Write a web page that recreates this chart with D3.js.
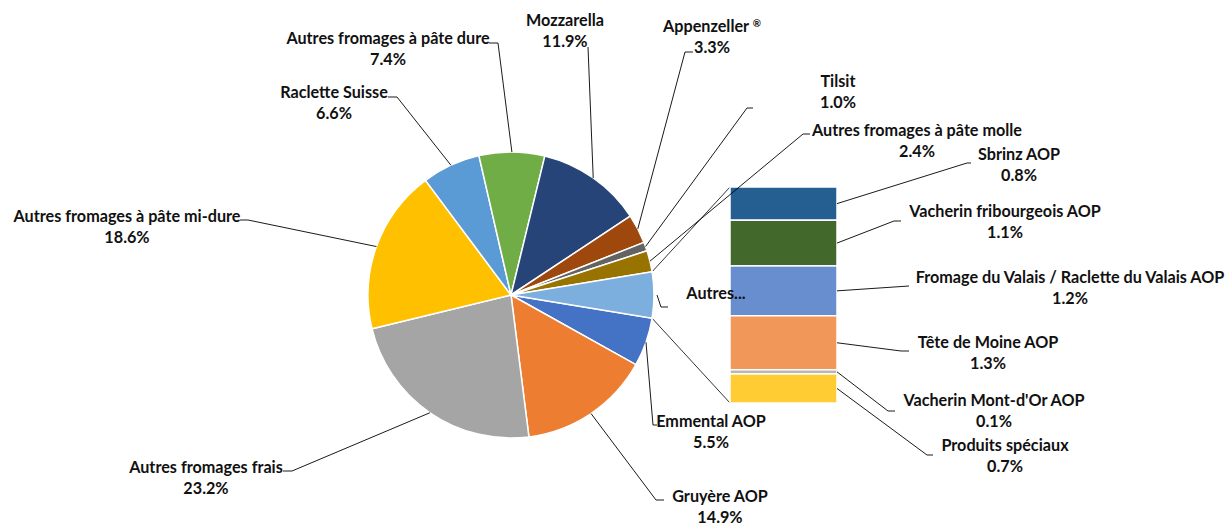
<!DOCTYPE html>
<html>
<head>
<meta charset="utf-8">
<script src="https://cdn.jsdelivr.net/npm/d3@7"></script>
<style>
  body { margin: 0; background: #fff; }
  text { font-family: Lato, "Open Sans", sans-serif; font-weight: bold; font-size: 16.2px; fill: #111; }
</style>
</head>
<body>
<div id="chart"></div>
<script>
var width = 1226
var height = 526

// main pie, clockwise after the "Autres" slice
var pieNames = ["Emmental AOP", "Gruyère AOP", "Autres fromages frais", "Autres fromages à pâte mi-dure",
  "Raclette Suisse", "Autres fromages à pâte dure", "Mozzarella", "Appenzeller ®", "Tilsit",
  "Autres fromages à pâte molle"]
var pieValues = [5.5, 14.9, 23.2, 18.6, 6.6, 7.4, 11.9, 3.3, 1.0, 2.4]
var pieColors = ["#4472C4", "#ED7D31", "#A5A5A5", "#FFC000", "#5B9BD5", "#70AD47", "#264478", "#9E480E", "#636363", "#997300"]

// stacked bar ("Autres"), top to bottom
var barNames = ["Sbrinz AOP", "Vacherin fribourgeois AOP", "Fromage du Valais / Raclette du Valais AOP",
  "Tête de Moine AOP", "Vacherin Mont-d'Or AOP", "Produits spéciaux"]
var barValues = [0.8, 1.1, 1.2, 1.3, 0.1, 0.7]
var barColors = ["#255E91", "#43682B", "#698ED0", "#F1975A", "#B7B7B7", "#FFCD33"]
var otherName = "Autres..."
var otherColor = "#7CAFDD"

// label layout: centre of first text line, leader elbow and end
var pieLabels = {
  "Emmental AOP": { x: 711, y: 421, path: [[653, 425], [657, 425]] },
  "Gruyère AOP": { x: 720, y: 496, path: [[656, 500], [664, 500]] },
  "Autres fromages frais": { x: 206, y: 467, path: [[292, 471], [283, 471]] },
  "Autres fromages à pâte mi-dure": { x: 127, y: 216, path: [[248, 220], [240, 220]] },
  "Raclette Suisse": { x: 334, y: 92, path: [[397, 97], [388, 97]] },
  "Autres fromages à pâte dure": { x: 388, y: 38, path: [[498, 43], [489, 43]] },
  "Mozzarella": { x: 565, y: 20, path: [[588, 47]] },
  "Appenzeller ®": { x: 712, y: 26, path: [[685, 52], [693, 52]] },
  "Tilsit": { x: 838, y: 81, path: [[747, 108], [753, 108]] },
  "Autres fromages à pâte molle": { x: 917, y: 130, path: [[803, 134], [810, 134]] }
}
var barLabels = {
  "Sbrinz AOP": { x: 1019, y: 154, path: [[967, 163], [971, 163]] },
  "Vacherin fribourgeois AOP": { x: 1005, y: 211, path: [[894, 221], [901, 221]] },
  "Fromage du Valais / Raclette du Valais AOP": { x: 1070, y: 277, path: [[909, 286]] },
  "Tête de Moine AOP": { x: 988, y: 342, path: [[901, 351], [909, 351]] },
  "Vacherin Mont-d'Or AOP": { x: 994, y: 400, path: [[888, 411], [895, 411]] },
  "Produits spéciaux": { x: 1005, y: 445, path: [[927, 455], [933, 455]] }
}

var cx = 511, cy = 295, radius = 143
var barX = 730, barW = 107, barTop = 187, barBottom = 403

var svg = d3.select("#chart")
  .append("svg")
    .attr("width", width)
    .attr("height", height)

var otherTotal = d3.sum(barValues)
var slices = pieNames.map(function(n, i) { return { name: n, value: pieValues[i], color: pieColors[i] } })
slices.push({ name: otherName, value: otherTotal, color: otherColor })

var start = Math.PI / 2 + Math.PI * otherTotal / d3.sum(slices, function(d) { return d.value })
var pie = d3.pie()
  .sort(null)
  .value(function(d) { return d.value })
  .startAngle(start)
  .endAngle(start + 2 * Math.PI)

var arc = d3.arc().innerRadius(0).outerRadius(radius)
var arcs = pie(slices)

function edge(a) {
  return [cx + radius * Math.sin(a), cy - radius * Math.cos(a)]
}
function fmt(v) { return v.toFixed(1) + "%" }

var line = d3.line()

// series lines pie -> bar
var other = arcs[arcs.length - 1]
var y = d3.scaleLinear().domain([0, otherTotal]).range([barTop, barBottom])
svg.append("path")
  .attr("d", line([edge(other.startAngle), [barX, y(0)]]))
  .attr("fill", "none").attr("stroke", "#000").attr("stroke-width", 0.8)
svg.append("path")
  .attr("d", line([edge(other.endAngle), [barX, y(otherTotal)]]))
  .attr("fill", "none").attr("stroke", "#000").attr("stroke-width", 0.8)

svg.append("g")
    .attr("transform", "translate(" + cx + "," + cy + ")")
  .selectAll("path")
  .data(arcs)
  .enter()
  .append("path")
    .attr("d", arc)
    .attr("fill", function(d) { return d.data.color })
    .attr("stroke", "#fff")
    .attr("stroke-width", 1.5)

// stacked bar
var stack = []
var acc = 0
barNames.forEach(function(n, i) {
  stack.push({ name: n, value: barValues[i], color: barColors[i], y0: acc, y1: acc + barValues[i] })
  acc += barValues[i]
})

svg.append("g")
  .selectAll("rect")
  .data(stack)
  .enter()
  .append("rect")
    .attr("x", barX)
    .attr("width", barW)
    .attr("y", function(d) { return y(d.y0) })
    .attr("height", function(d) { return y(d.y1) - y(d.y0) })
    .attr("fill", function(d) { return d.color })
    .attr("stroke", "#fff")
    .attr("stroke-width", 1.5)

// leaders
var leaders = svg.append("g")
  .attr("fill", "none")
  .attr("stroke", "#000")
  .attr("stroke-width", 0.9)

arcs.slice(0, -1).forEach(function(d) {
  var lab = pieLabels[d.data.name]
  var mid = (d.startAngle + d.endAngle) / 2
  leaders.append("path").attr("d", line([edge(mid)].concat(lab.path)))
})
stack.forEach(function(d) {
  var lab = barLabels[d.name]
  leaders.append("path").attr("d", line([[barX + barW, y((d.y0 + d.y1) / 2)]].concat(lab.path)))
})
// small leader for "Autres..."
var om = edge((other.startAngle + other.endAngle) / 2)
leaders.append("path").attr("d", line([[om[0] + 3, om[1]], [om[0] + 7, om[1] + 12], [om[0] + 14, om[1] + 12]]))

// labels
function label(name, value, pos) {
  var t = svg.append("text")
    .attr("text-anchor", "middle")
  var first = t.append("tspan").attr("x", pos.x).attr("y", pos.y).attr("dy", "0.35em")
  if (name.indexOf("®") > -1) {
    // small raised registered mark
    first.append("tspan").text(name.replace("®", ""))
    first.append("tspan").attr("font-size", "10px").attr("dy", "-5").text("®")
  } else {
    first.text(name)
  }
  t.append("tspan").attr("x", pos.x).attr("y", pos.y + 21).attr("dy", "0.35em").text(fmt(value))
}
arcs.slice(0, -1).forEach(function(d) { label(d.data.name, d.data.value, pieLabels[d.data.name]) })
stack.forEach(function(d) { label(d.name, d.value, barLabels[d.name]) })

svg.append("text")
  .attr("x", om[0] + 62)
  .attr("y", om[1] - 2)
  .attr("dy", "0.35em")
  .attr("text-anchor", "middle")
  .text(otherName)
</script>
</body>
</html>
